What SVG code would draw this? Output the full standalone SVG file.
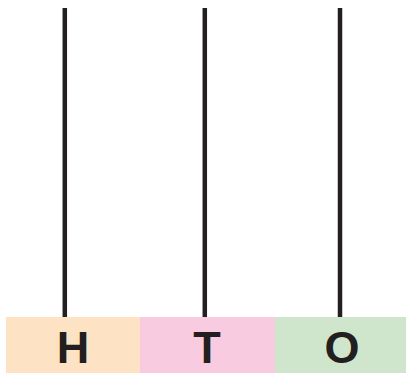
<svg xmlns="http://www.w3.org/2000/svg" width="406" height="373" viewBox="0 0 406 373">
<style>
.rod{stroke:#231f20;stroke-width:4.5;fill:none}
.lbl{font-family:"Liberation Sans",Arial,sans-serif;font-weight:bold;font-size:45px;fill:#231f20;text-anchor:middle}
</style>
<rect width="406" height="373" fill="#ffffff"/>
<g id="connectors">
<line class="rod" x1="64.8" y1="8" x2="64.8" y2="317"/>
<line class="rod" x1="204.8" y1="8" x2="204.8" y2="317"/>
<line class="rod" x1="340" y1="8" x2="340" y2="317"/>
</g>
<g id="H"><rect x="6" y="317" width="134.5" height="56" fill="#fde3c3"/><text class="lbl" x="73" y="363">H</text></g>
<g id="T"><rect x="140" y="317" width="135.5" height="56" fill="#f8cbe0"/><text class="lbl" x="207" y="363">T</text></g>
<g id="O"><rect x="275" y="317" width="131" height="56" fill="#d0e6cc"/><text class="lbl" x="342" y="363">O</text></g>
</svg>
